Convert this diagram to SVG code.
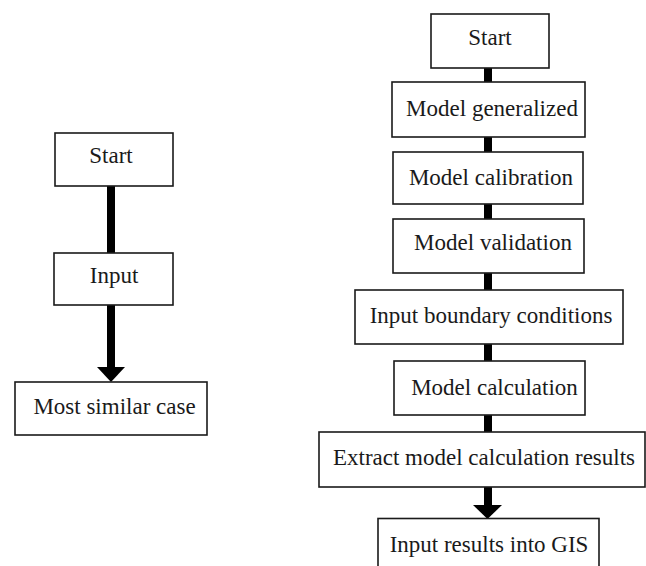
<svg xmlns="http://www.w3.org/2000/svg" width="646" height="566" viewBox="0 0 646 566">
<style>
.box{fill:#fff;stroke:#1a1a1a;stroke-width:1.6}
.lbl{font-family:"Liberation Serif","Times New Roman",serif;font-size:23px;fill:#1a1a1a;text-anchor:middle}
.conn{stroke:#000;stroke-width:8;fill:none}
.head{fill:#000}
</style>
<rect width="646" height="566" fill="#fff"/>
<g id="connectors">
<line class="conn" x1="111" y1="186" x2="111" y2="253"/>
<line class="conn" x1="111" y1="305" x2="111" y2="368"/>
<polygon class="head" points="97,367 125,367 111,382"/>
<line class="conn" x1="488" y1="68" x2="488" y2="82"/>
<line class="conn" x1="488" y1="137" x2="488" y2="152"/>
<line class="conn" x1="488" y1="204" x2="488" y2="219"/>
<line class="conn" x1="488" y1="273" x2="488" y2="290"/>
<line class="conn" x1="488" y1="344" x2="488" y2="361"/>
<line class="conn" x1="488" y1="415" x2="488" y2="432"/>
<line class="conn" x1="488" y1="487" x2="488" y2="506"/>
<polygon class="head" points="473,505 502,505 487.5,519"/>
</g>
<g id="l-start"><rect class="box" x="55" y="133" width="118" height="53"/><text class="lbl" x="111" y="163">Start</text></g>
<g id="l-input"><rect class="box" x="54" y="253" width="119" height="52"/><text class="lbl" x="114" y="283">Input</text></g>
<g id="l-case"><rect class="box" x="15" y="382" width="192" height="53"/><text class="lbl" x="114.5" y="414">Most similar case</text></g>
<g id="r-start"><rect class="box" x="431" y="14" width="118" height="54"/><text class="lbl" x="490" y="45">Start</text></g>
<g id="r-gen"><rect class="box" x="392" y="82" width="193" height="55"/><text class="lbl" x="492" y="116">Model generalized</text></g>
<g id="r-cal"><rect class="box" x="393" y="152" width="190" height="52"/><text class="lbl" x="491" y="185">Model calibration</text></g>
<g id="r-val"><rect class="box" x="393" y="219" width="191" height="54"/><text class="lbl" x="493" y="250">Model validation</text></g>
<g id="r-bound"><rect class="box" x="355" y="290" width="268" height="54"/><text class="lbl" x="491" y="323">Input boundary conditions</text></g>
<g id="r-calc"><rect class="box" x="394" y="361" width="191" height="54"/><text class="lbl" x="494.5" y="395">Model calculation</text></g>
<g id="r-extract"><rect class="box" x="319" y="432" width="326" height="55"/><text class="lbl" x="484" y="465">Extract model calculation results</text></g>
<g id="r-gis"><rect class="box" x="378" y="518.5" width="221" height="60"/><text class="lbl" x="489" y="552">Input results into GIS</text></g>
</svg>
